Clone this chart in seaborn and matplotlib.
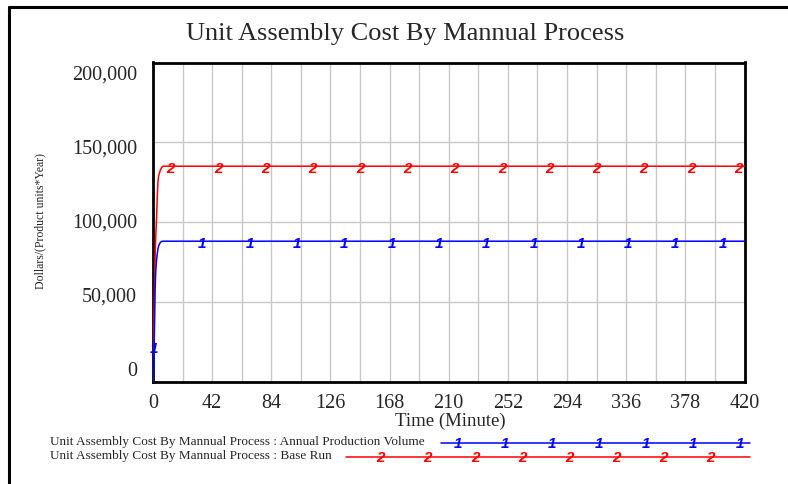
import numpy as np
import pandas as pd
import seaborn as sns
import matplotlib.pyplot as plt
from matplotlib.ticker import MultipleLocator
from matplotlib.transforms import offset_copy

# datos (Vensim)
tiempo = [0, 0.5, 1, 1.5, 2, 2.5, 3, 3.5, 4, 5, 6, 7, 8, 420]
volumen_anual = [0, 10000, 30000, 58000, 70000, 76000, 80000, 83000, 85000,
                 87000, 87800, 88000, 88000, 88000]
base_run = [0, 30000, 60000, 78000, 92000, 102000, 115000, 125000, 129000,
            132000, 134000, 135000, 135000, 135000]

nombres = ["Unit Assembly Cost By Mannual Process : Annual Production Volume",
           "Unit Assembly Cost By Mannual Process : Base Run"]
etiquetas = ["1", "2"]
colores = ["#0000ff", "#ff0000"]
ticks_x = [0, 42, 84, 126, 168, 210, 252, 294, 336, 378, 420]
ticks_y = [0, 50000, 100000, 150000, 200000]

# posiciones de los numeros sobre las lineas
marcas_t = [[0.8] + list(np.arange(35.0, 420, 33.6)), list(np.arange(12.6, 420, 33.6))]

df = pd.concat([
    pd.DataFrame({"tiempo": tiempo, "valor": volumen_anual, "serie": nombres[0]}),
    pd.DataFrame({"tiempo": tiempo, "valor": base_run, "serie": nombres[1]}),
])

sns.set_style("white")
plt.rcParams["font.family"] = ["Liberation Serif", "DejaVu Serif"]

fig = plt.figure(figsize=(7.88, 4.84), dpi=100)
ax = fig.add_axes([153 / 788, 1 - 381.6 / 484, (744.5 - 153) / 788, (381.6 - 62.5) / 484])

sns.lineplot(data=df, x="tiempo", y="valor", hue="serie",
             hue_order=[nombres[1], nombres[0]],
             palette={nombres[0]: colores[0], nombres[1]: colores[1]},
             linewidth=1.1, legend=False, ax=ax, zorder=3)

estilo_num = dict(fontsize=11, fontfamily="Liberation Sans", fontweight="bold",
                  fontstyle="italic", ha="center", va="center")

# numeros 1 y 2 sobre las curvas
serie_vals = [volumen_anual, base_run]
for i in range(2):
    ys = np.interp(marcas_t[i], tiempo, serie_vals[i])
    for t, v in zip(marcas_t[i], ys):
        ax.annotate(etiquetas[i], (t, v), xytext=(0, -2), textcoords="offset points",
                    color=colores[i], zorder=4, annotation_clip=False, **estilo_num)

ax.set_xlim(0, 420)
ax.set_ylim(0, 200000)
ax.set_xticks(ticks_x)
ax.xaxis.set_minor_locator(MultipleLocator(21))
ax.set_yticks(ticks_y)
ax.set_yticklabels([])
ax.grid(which="both", color="#c8c8c8", linewidth=1, zorder=0)
ax.tick_params(which="both", length=0)
ax.tick_params(axis="x", pad=9, labelsize=14.5)
for s in ax.spines.values():
    s.set_color("black")
    s.set_linewidth(2)
ax.set_xlabel("")
ax.set_ylabel("")

# etiquetas del eje y, desplazadas como en Vensim
for v in ticks_y:
    y_txt = 371 - v / 200000 * 296
    y_grid = 381.6 - v / 200000 * 319.1
    tr = offset_copy(ax.get_yaxis_transform(), fig=fig, x=-16, y=-(y_txt - y_grid), units="dots")
    ax.text(0, v, f"{v:,.0f}", transform=tr, ha="right", va="center", fontsize=14.5)

fig.text(405 / 788, 1 - 34 / 484, "Unit Assembly Cost By Mannual Process",
         ha="center", va="center", fontsize=19)
fig.text(450 / 788, 1 - 421.5 / 484, "Time (Minute)", ha="center", va="center", fontsize=13.5)
fig.text(40 / 788, 1 - 221 / 484, "Dollars/(Product units*Year)", ha="center", va="center",
         rotation=90, fontsize=8.5)

# capa superior en pixeles para marco y leyenda
capa = fig.add_axes([0, 0, 1, 1], facecolor="none")
capa.set_xlim(0, 788)
capa.set_ylim(484, 0)
capa.axis("off")
capa.plot([9, 788], [6.5, 6.5], color="black", lw=2.2)
capa.plot([9, 9], [6.5, 484], color="black", lw=2.2)

ley_y = [442.5, 456.5]
ley_x0 = [441, 346]
ley_marcas = [[458, 505, 552, 599, 646, 693, 740], [380, 427, 475, 522, 569, 616, 663, 710]]
for i in range(2):
    capa.text(50, ley_y[i], nombres[i], ha="left", va="center", fontsize=9.5)
    capa.plot([ley_x0[i], 750], [ley_y[i], ley_y[i]], color=colores[i], lw=1.1)
    for mx in ley_marcas[i]:
        capa.text(mx, ley_y[i] + 2, etiquetas[i], color=colores[i], **estilo_num)

fig.savefig("out.png", dpi=100)
